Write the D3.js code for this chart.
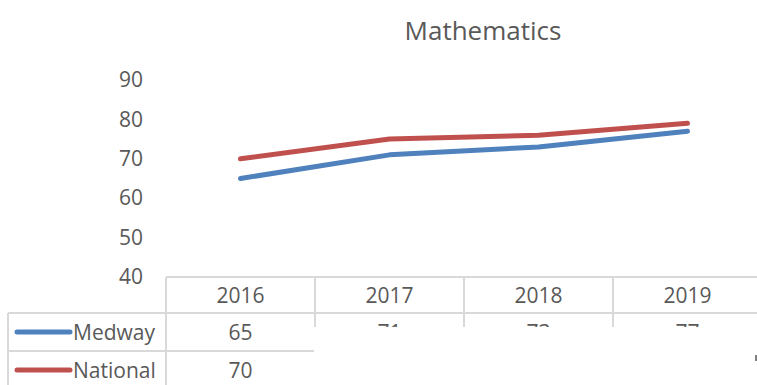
<!DOCTYPE html>
<html>
<head>
<meta charset="utf-8">
<script src="https://cdn.jsdelivr.net/npm/d3@7"></script>
<style>
  html, body { margin: 0; padding: 0; background: #fff; }
  svg { display: block; font-family: "Open Sans", "Noto Sans", sans-serif; }
</style>
</head>
<body>
<svg id="chart" width="757" height="385"></svg>
<script>
// Key Stage results, Mathematics (% of pupils)
const years = ["2016", "2017", "2018", "2019"];
const medway = [65, 71, 73, 77];
const national = [70, 75, 76, 79];
const yTicks = [40, 50, 60, 70, 80, 90];

const series = [
  { name: "Medway", values: medway, color: "#4F81BD" },
  { name: "National", values: national, color: "#C0504D" }
];

const svg = d3.select("#chart");
const W = 757, H = 385;
const textColor = "#595959";
const gridColor = "#D9D9D9";
const labelSize = "21px";

// Plot geometry
const plotTop = 80, plotBottom = 277;
const colLeft = 166, colWidth = 149;
const legendLeft = 8;
const headerH = 36, rowH = 38;

const x = d3.scaleBand()
  .domain(years)
  .range([colLeft, colLeft + colWidth * years.length])
  .paddingInner(0).paddingOuter(0);

const y = d3.scaleLinear().domain([40, 90]).range([plotBottom, plotTop]);

// Title
svg.append("text")
  .attr("x", 483).attr("y", 30)
  .attr("text-anchor", "middle")
  .attr("dominant-baseline", "central")
  .attr("fill", textColor)
  .style("font-size", "26px")
  .text("Mathematics");

// Y axis labels (no axis line, no gridlines)
const yAxis = d3.axisLeft(y).tickValues(yTicks).tickSize(0).tickPadding(0);
const gy = svg.append("g").attr("transform", `translate(143,0)`).call(yAxis);
gy.select(".domain").remove();
gy.selectAll("text")
  .attr("fill", textColor)
  .style("font-size", labelSize)
  .style("font-family", "'Open Sans', 'Noto Sans', sans-serif");

// Lines
const line = d3.line()
  .x((d, i) => x(years[i]) + x.bandwidth() / 2)
  .y(d => y(d));

svg.selectAll("path.series")
  .data(series)
  .join("path")
  .attr("class", "series")
  .attr("d", d => line(d.values))
  .attr("fill", "none")
  .attr("stroke", d => d.color)
  .attr("stroke-width", 5)
  .attr("stroke-linecap", "round")
  .attr("stroke-linejoin", "round");

// Data table
const table = svg.append("g");
const tableRight = colLeft + colWidth * years.length;
const hdrTop = plotBottom, hdrBot = plotBottom + headerH;
const rowTops = series.map((s, i) => hdrBot + i * rowH);
const tableBottom = hdrBot + series.length * rowH;

const hLines = [
  { x1: colLeft, x2: tableRight, y: hdrTop },
  { x1: legendLeft, x2: tableRight, y: hdrBot },
  { x1: legendLeft, x2: tableRight, y: hdrBot + rowH }
];
table.selectAll("line.h").data(hLines).join("line")
  .attr("x1", d => d.x1).attr("x2", d => d.x2)
  .attr("y1", d => d.y).attr("y2", d => d.y)
  .attr("stroke", gridColor).attr("stroke-width", 2);

const vLines = [{ x: legendLeft, y1: hdrBot }]
  .concat(years.map(yr => ({ x: x(yr), y1: hdrTop })));
table.selectAll("line.v").data(vLines).join("line")
  .attr("x1", d => d.x).attr("x2", d => d.x)
  .attr("y1", d => d.y1).attr("y2", tableBottom)
  .attr("stroke", gridColor).attr("stroke-width", 2);

// Header years
table.selectAll("text.year").data(years).join("text")
  .attr("x", d => x(d) + x.bandwidth() / 2)
  .attr("y", hdrTop + headerH / 2)
  .attr("text-anchor", "middle")
  .attr("dominant-baseline", "central")
  .attr("fill", textColor)
  .style("font-size", labelSize)
  .text(d => d);

// Rows: legend key + values
series.forEach((s, i) => {
  const cy = rowTops[i] + rowH / 2;
  table.append("line")
    .attr("x1", 17).attr("x2", 70)
    .attr("y1", cy).attr("y2", cy)
    .attr("stroke", s.color).attr("stroke-width", 5)
    .attr("stroke-linecap", "round");
  table.append("text")
    .attr("x", 73).attr("y", cy)
    .attr("dominant-baseline", "central")
    .attr("fill", textColor)
    .style("font-size", labelSize)
    .text(s.name);
  table.selectAll(null).data(s.values).join("text")
    .attr("x", (d, j) => x(years[j]) + x.bandwidth() / 2)
    .attr("y", cy)
    .attr("text-anchor", "middle")
    .attr("dominant-baseline", "central")
    .attr("fill", textColor)
    .style("font-size", labelSize)
    .text(d => d);
});

// Overlapping white panel that hides part of the table
svg.append("rect")
  .attr("x", 314).attr("y", 327)
  .attr("width", W - 314).attr("height", H - 327)
  .attr("fill", "#fff");
svg.append("rect")
  .attr("x", 755).attr("y", 355)
  .attr("width", 2).attr("height", 6)
  .attr("fill", "#7f7f7f");
</script>
</body>
</html>
